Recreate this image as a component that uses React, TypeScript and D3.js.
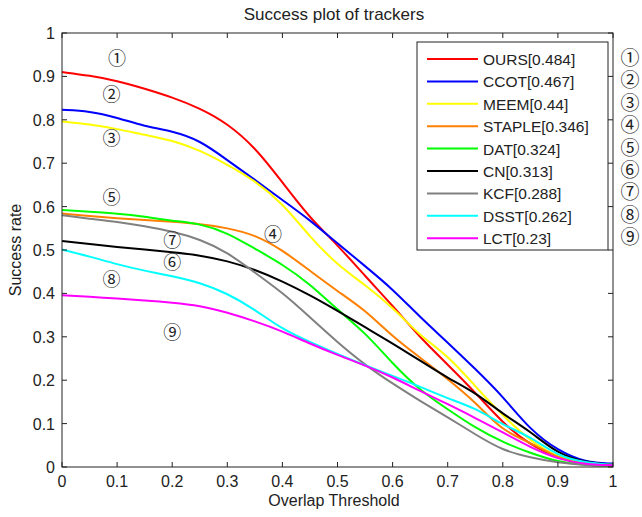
import React from 'react'
import * as d3 from 'd3'

// overlap thresholds (x) shared by every tracker
const thresholds = [0, 0.05, 0.1, 0.15, 0.2, 0.25, 0.3, 0.35, 0.4, 0.45, 0.5,
  0.55, 0.6, 0.65, 0.7, 0.75, 0.8, 0.85, 0.9, 0.95, 1]

const trackerNames = ['OURS', 'CCOT', 'MEEM', 'STAPLE', 'DAT', 'CN', 'KCF', 'DSST', 'LCT']
const trackerAuc = ['0.484', '0.467', '0.44', '0.346', '0.324', '0.313', '0.288', '0.262', '0.23']
const trackerColors = ['#ff0000', '#0000ff', '#ffff00', '#ff8000', '#00ff00', '#000000', '#808080', '#00ffff', '#ff00ff']
const circled = ['①', '②', '③', '④', '⑤', '⑥', '⑦', '⑧', '⑨']

const ours = [0.910, 0.902, 0.890, 0.872, 0.852, 0.827, 0.792, 0.737, 0.656, 0.573, 0.512,
  0.440, 0.372, 0.298, 0.236, 0.172, 0.101, 0.050, 0.021, 0.006, 0.004]
const ccot = [0.823, 0.820, 0.805, 0.785, 0.774, 0.753, 0.707, 0.662, 0.615, 0.569, 0.515,
  0.463, 0.410, 0.345, 0.287, 0.226, 0.163, 0.085, 0.038, 0.010, 0.008]
const meem = [0.796, 0.790, 0.779, 0.765, 0.753, 0.730, 0.697, 0.660, 0.608, 0.530, 0.465,
  0.420, 0.368, 0.302, 0.257, 0.186, 0.118, 0.060, 0.020, 0.008, 0.005]
const staple = [0.584, 0.578, 0.573, 0.569, 0.565, 0.560, 0.551, 0.535, 0.500, 0.452, 0.405,
  0.362, 0.300, 0.252, 0.203, 0.150, 0.082, 0.057, 0.020, 0.005, 0.004]
const dat = [0.592, 0.588, 0.584, 0.577, 0.567, 0.561, 0.540, 0.503, 0.467, 0.422, 0.362,
  0.310, 0.238, 0.176, 0.133, 0.090, 0.057, 0.032, 0.012, 0.004, 0.003]
const cn = [0.521, 0.514, 0.507, 0.501, 0.495, 0.488, 0.475, 0.455, 0.428, 0.396, 0.360,
  0.322, 0.285, 0.245, 0.205, 0.172, 0.122, 0.082, 0.030, 0.010, 0.005]
const kcf = [0.580, 0.572, 0.565, 0.555, 0.543, 0.525, 0.495, 0.448, 0.402, 0.345, 0.287,
  0.235, 0.192, 0.152, 0.115, 0.075, 0.038, 0.022, 0.010, 0.004, 0.003]
const dsst = [0.501, 0.485, 0.467, 0.452, 0.440, 0.425, 0.400, 0.363, 0.317, 0.288, 0.260,
  0.234, 0.210, 0.185, 0.158, 0.136, 0.097, 0.070, 0.025, 0.010, 0.005]
const lct = [0.396, 0.392, 0.388, 0.384, 0.379, 0.372, 0.356, 0.336, 0.313, 0.284, 0.258,
  0.234, 0.207, 0.175, 0.145, 0.113, 0.080, 0.045, 0.018, 0.006, 0.004]
const series = [ours, ccot, meem, staple, dat, cn, kcf, dsst, lct]

// in-plot circled marks, in data coordinates [threshold, rate]
const markX = [0.1, 0.09, 0.09, 0.383, 0.09, 0.2, 0.2, 0.09, 0.2]
const markY = [0.94, 0.858, 0.755, 0.534, 0.62, 0.47, 0.521, 0.43, 0.308]

const xTicks = d3.range(0, 11).map(i => i / 10)
const yTicks = d3.range(0, 11).map(i => i / 10)

const fmt = (v: number) => (v === 0 || v === 1 ? String(v) : v.toFixed(1))

export default function App() {
  const width = 642
  const height = 517
  const left = 62, right = 613, top = 33, bottom = 467

  const x = d3.scaleLinear().domain([0, 1]).range([left, right])
  const y = d3.scaleLinear().domain([0, 1]).range([bottom, top])

  const line = d3.line<number>()
    .x((d, i) => x(thresholds[i]))
    .y(d => y(d))
    .curve(d3.curveBasis)

  const font = '"Liberation Sans", Arial, sans-serif'
  const markFont = '"DejaVu Serif", "Noto Sans CJK SC", serif'
  const tick = 5

  const legend = {x0: 417, y0: 42, w: 191, h: 208, row: 22.4, first: 17}

  return <svg width={width} height={height} style={{position: 'absolute', left: 0, top: 0, background: 'white'}}>
    <rect x={0} y={0} width={width} height={height} fill="white" />
    <text x={334} y={20} textAnchor="middle" fontFamily={font} fontSize={17} fill="#222">
      Success plot of trackers
    </text>

    {series.map((values, i) => <path key={trackerNames[i]} d={line(values) || ''}
      fill="none" stroke={trackerColors[i]} strokeWidth={2} strokeLinejoin="round" />)}

    <rect x={left} y={top} width={right - left} height={bottom - top} fill="none" stroke="#222" strokeWidth={1} />
    {xTicks.map(t => <g key={'x' + t}>
      <line x1={x(t)} x2={x(t)} y1={bottom} y2={bottom - tick} stroke="#222" />
      <line x1={x(t)} x2={x(t)} y1={top} y2={top + tick} stroke="#222" />
      <text x={x(t)} y={487} textAnchor="middle" fontFamily={font} fontSize={16} fill="#222">{fmt(t)}</text>
    </g>)}
    {yTicks.map(t => <g key={'y' + t}>
      <line x1={left} x2={left + tick} y1={y(t)} y2={y(t)} stroke="#222" />
      <line x1={right} x2={right - tick} y1={y(t)} y2={y(t)} stroke="#222" />
      <text x={55} y={y(t) + 6} textAnchor="end" fontFamily={font} fontSize={16} fill="#222">{fmt(t)}</text>
    </g>)}

    <text x={334} y={506} textAnchor="middle" fontFamily={font} fontSize={16} fill="#222">
      Overlap Threshold
    </text>
    <text transform={`translate(21,${(top + bottom) / 2}) rotate(-90)`} textAnchor="middle"
      fontFamily={font} fontSize={16} fill="#222">Success rate</text>

    {markX.map((mx, i) => <text key={'m' + i} x={x(mx)} y={y(markY[i]) + 6} textAnchor="middle"
      fontFamily={markFont} fontSize={18} fill="#222">{circled[i]}</text>)}

    <rect x={legend.x0} y={legend.y0} width={legend.w} height={legend.h} fill="white" stroke="#222" strokeWidth={1} />
    {trackerNames.map((name, i) => {
      const ry = legend.y0 + legend.first + i * legend.row
      return <g key={'l' + name}>
        <line x1={legend.x0 + 10} x2={legend.x0 + 61} y1={ry} y2={ry} stroke={trackerColors[i]} strokeWidth={2} />
        <text x={legend.x0 + 66} y={ry + 6} fontFamily={font} fontSize={15.5} fill="#222">{name}[{trackerAuc[i]}]</text>
        <text x={630} y={ry + 6} textAnchor="middle" fontFamily={markFont} fontSize={19} fill="#222">{circled[i]}</text>
      </g>
    })}
  </svg>
}
